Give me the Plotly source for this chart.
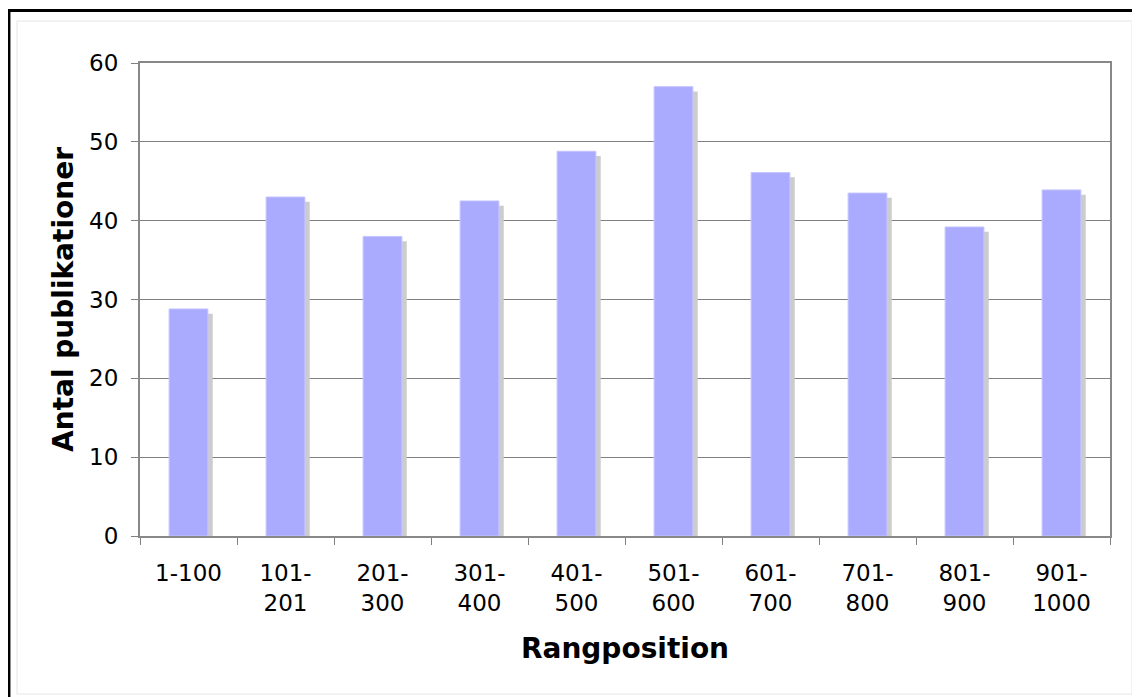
import plotly.graph_objects as go

categories = ["1-100", "101-<br>201", "201-<br>300", "301-<br>400", "401-<br>500",
              "501-<br>600", "601-<br>700", "701-<br>800", "801-<br>900", "901-<br>1000"]
values = [28.8, 43.0, 38.0, 42.5, 48.8, 57.0, 46.1, 43.5, 39.2, 43.9]
y_ticks = [0, 10, 20, 30, 40, 50, 60]

FONT = "DejaVu Sans"
OFF = 8  # page body margin
W, H = 1140 - OFF, 697 - OFF
L, R, T, B = 140 - OFF, 30, 63 - OFF, 161

fig = go.Figure()
# shadow
fig.add_trace(go.Bar(
    x=categories, y=values, base=-0.6, width=0.4, offset=-0.15,
    marker=dict(color="#cccccc", line=dict(width=0)), hoverinfo="skip", showlegend=False))
# bars
fig.add_trace(go.Bar(
    x=categories, y=values, width=0.4, offset=-0.2,
    marker=dict(color="#aaaaff", line=dict(color="#c4c4ff", width=1)), showlegend=False))

pw = W - L - R
ph = H - T - B
def px(x):
    return (x - OFF - L) / pw
def py(y):
    return 1 - (y - OFF - T) / ph

shapes = [
    # light inner frame
    dict(type="rect", xref="paper", yref="paper", x0=px(17), x1=px(1132), y0=py(694), y1=py(21),
         line=dict(color="#e6e6e6", width=1), layer="below"),
    # outer black border (left and top)
    dict(type="line", xref="paper", yref="paper", x0=px(9.2), x1=px(9.2), y0=py(9), y1=py(720),
         line=dict(color="black", width=2.5)),
    dict(type="line", xref="paper", yref="paper", x0=px(8), x1=px(1160), y0=py(10.5), y1=py(10.5),
         line=dict(color="black", width=3)),
]

fig.update_layout(
    width=W, height=H,
    margin=dict(l=L, r=R, t=T, b=B, pad=0),
    paper_bgcolor="white", plot_bgcolor="white",
    barmode="overlay", bargap=0.6,
    font=dict(family=FONT, size=23, color="black"),
    shapes=shapes,
    xaxis=dict(
        type="category", tickson="boundaries", ticks="outside", ticklen=7, tickwidth=1,
        tickcolor="#808080", showline=True, linecolor="#888888", linewidth=2, mirror=True,
        showgrid=False, tickfont=dict(family=FONT, size=23), ticklabelstandoff=15,
        title=dict(text="<b>Rangposition</b>", font=dict(family=FONT, size=28), standoff=24),
        range=[-0.5, 9.5],
    ),
    yaxis=dict(
        range=[0, 60], tickvals=y_ticks, ticks="outside", ticklen=7, tickwidth=1,
        tickcolor="#808080", showline=True, linecolor="#888888", linewidth=2, mirror=True,
        showgrid=True, gridcolor="#808080", gridwidth=1, zeroline=False,
        tickfont=dict(family=FONT, size=23), ticklabelstandoff=8,
        title=dict(text="<b>Antal publikationer</b>", font=dict(family=FONT, size=28), standoff=7),
    ),
)

fig.write_html("out.html")
